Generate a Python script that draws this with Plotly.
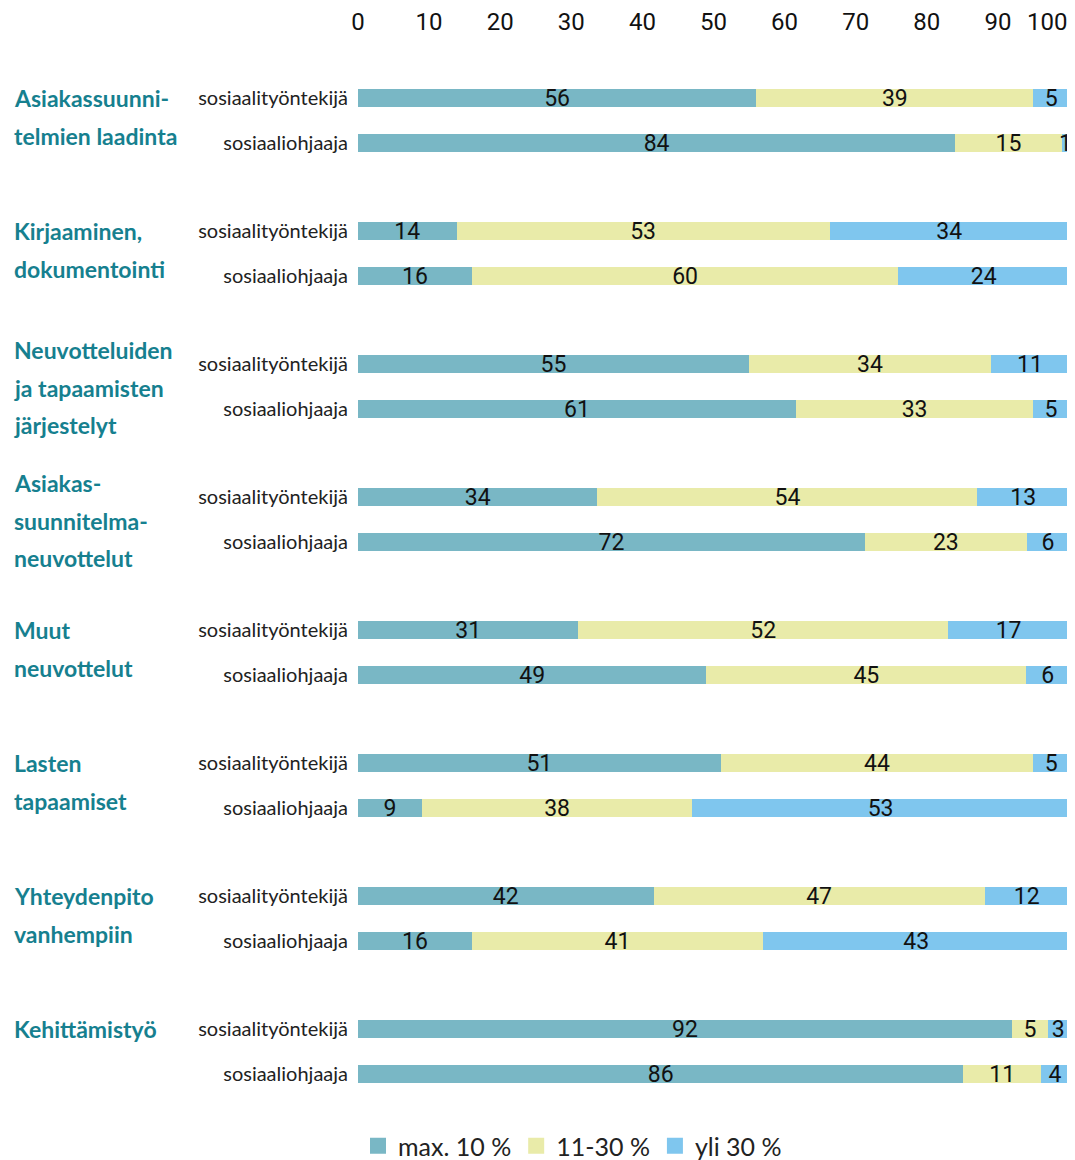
import plotly.graph_objects as go

# ---- data ----
group_lines = [
    ["Asiakassuunni-", "telmien laadinta"],
    ["Kirjaaminen,", "dokumentointi"],
    ["Neuvotteluiden", "ja tapaamisten", "järjestelyt"],
    ["Asiakas-", "suunnitelma-", "neuvottelut"],
    ["Muut", "neuvottelut"],
    ["Lasten", "tapaamiset"],
    ["Yhteydenpito", "vanhempiin"],
    ["Kehittämistyö"],
]
roles = ["sosiaalityöntekijä", "sosiaaliohjaaja"]
series_names = ["max. 10 %", "11-30 %", "yli 30 %"]

low_tyo = [56, 14, 55, 34, 31, 51, 42, 92]
low_ohj = [84, 16, 61, 72, 49, 9, 16, 86]
mid_tyo = [39, 53, 34, 54, 52, 44, 47, 5]
mid_ohj = [15, 60, 33, 23, 45, 38, 41, 11]
high_tyo = [5, 34, 11, 13, 17, 5, 12, 3]
high_ohj = [1, 24, 5, 6, 6, 53, 43, 4]

x_ticks = [0, 10, 20, 30, 40, 50, 60, 70, 80, 90, 100]

colors = ["#79b7c5", "#e9eba9", "#7fc6ee"]
teal_text = "#16808f"

# ---- layout helpers ----
OFF = 8  # default page body margin
W, H = 1075 - OFF, 1160 - OFF
GROUP_STEP = 133
ROW_STEP = 45
n = len(group_lines)

ys, ytext, lows, mids, highs = [], [], [], [], []
for i in range(n):
    for j, (lo, mi, hi) in enumerate([(low_tyo[i], mid_tyo[i], high_tyo[i]),
                                      (low_ohj[i], mid_ohj[i], high_ohj[i])]):
        ys.append(i * GROUP_STEP + j * ROW_STEP)
        ytext.append(roles[j])
        lows.append(lo)
        mids.append(mi)
        highs.append(hi)

vals = [lows, mids, highs]
totals = [a + b + c for a, b, c in zip(lows, mids, highs)]

num_font = "Liberation Sans Narrow, Roboto, sans-serif"
txt_font = "Lato, Noto Sans, sans-serif"

fig = go.Figure()
for k in range(3):
    fig.add_trace(go.Bar(
        y=ys,
        x=[v / t * 100 for v, t in zip(vals[k], totals)],
        text=[str(v) for v in vals[k]],
        textposition="inside",
        insidetextanchor="middle",
        textangle=0,
        constraintext="none",
        textfont=dict(size=23, color="#111111", family=num_font),
        orientation="h",
        width=18,
        name=series_names[k],
        marker=dict(color=colors[k], line=dict(width=0)),
        cliponaxis=False,
        hoverinfo="skip",
        showlegend=False,
    ))
# legend entries with larger square swatches
for k in range(3):
    fig.add_trace(go.Scatter(
        x=[None], y=[None], mode="markers", name=series_names[k],
        marker=dict(symbol="square", size=16, color=colors[k]),
        showlegend=True, hoverinfo="skip",
    ))

L = 358 - OFF
R = W - (1069 - OFF)
T = 42 - OFF
B = 50
plot_h = H - T - B
plot_w = W - L - R
top_val = -((98 - OFF) - T)

annotations = []
for i, lines in enumerate(group_lines):
    base = i * GROUP_STEP
    start = base if len(lines) < 3 else base - 14
    for li, line in enumerate(lines):
        annotations.append(dict(
            text=line, xref="paper", yref="y",
            x=((12 - OFF) - L) / plot_w, y=start + li * 37.5,
            xanchor="left", yanchor="middle", showarrow=False,
            font=dict(size=23, color=teal_text, family=txt_font, weight="bold"),
        ))
# last tick label kept inside the page, right-aligned at its tick
annotations.append(dict(
    text=str(x_ticks[-1]), xref="x", yref="paper", x=x_ticks[-1], y=1,
    xanchor="right", yanchor="middle", yshift=T - (22 - OFF), showarrow=False,
    font=dict(size=24, color="#111111", family=num_font),
))

fig.update_layout(
    barmode="stack",
    width=W, height=H,
    margin=dict(l=L, r=R, t=T, b=B, autoexpand=False),
    paper_bgcolor="white", plot_bgcolor="white",
    font=dict(family=txt_font, color="#222222"),
    xaxis=dict(
        range=[0, 100], side="top", tickvals=x_ticks[:-1],
        showgrid=False, zeroline=False, showline=False,
        tickfont=dict(size=24, color="#111111", family=num_font),
        ticklabelstandoff=6, fixedrange=True, automargin=False,
    ),
    yaxis=dict(
        range=[top_val + plot_h, top_val],
        tickvals=ys, ticktext=ytext,
        showgrid=False, zeroline=False, showline=False,
        tickfont=dict(size=20, color="#222222", family=txt_font),
        ticklabelstandoff=9, fixedrange=True, automargin=False,
    ),
    showlegend=True,
    legend=dict(
        orientation="h", x=((358 - OFF) - L) / plot_w, xanchor="left",
        y=-((1146 - OFF) - (H - B)) / plot_h, yanchor="middle",
        font=dict(size=25, color="#222222", family=txt_font),
        itemwidth=30, traceorder="normal", tracegroupgap=0,
    ),
    annotations=annotations,
)

fig.write_html("out.html")
